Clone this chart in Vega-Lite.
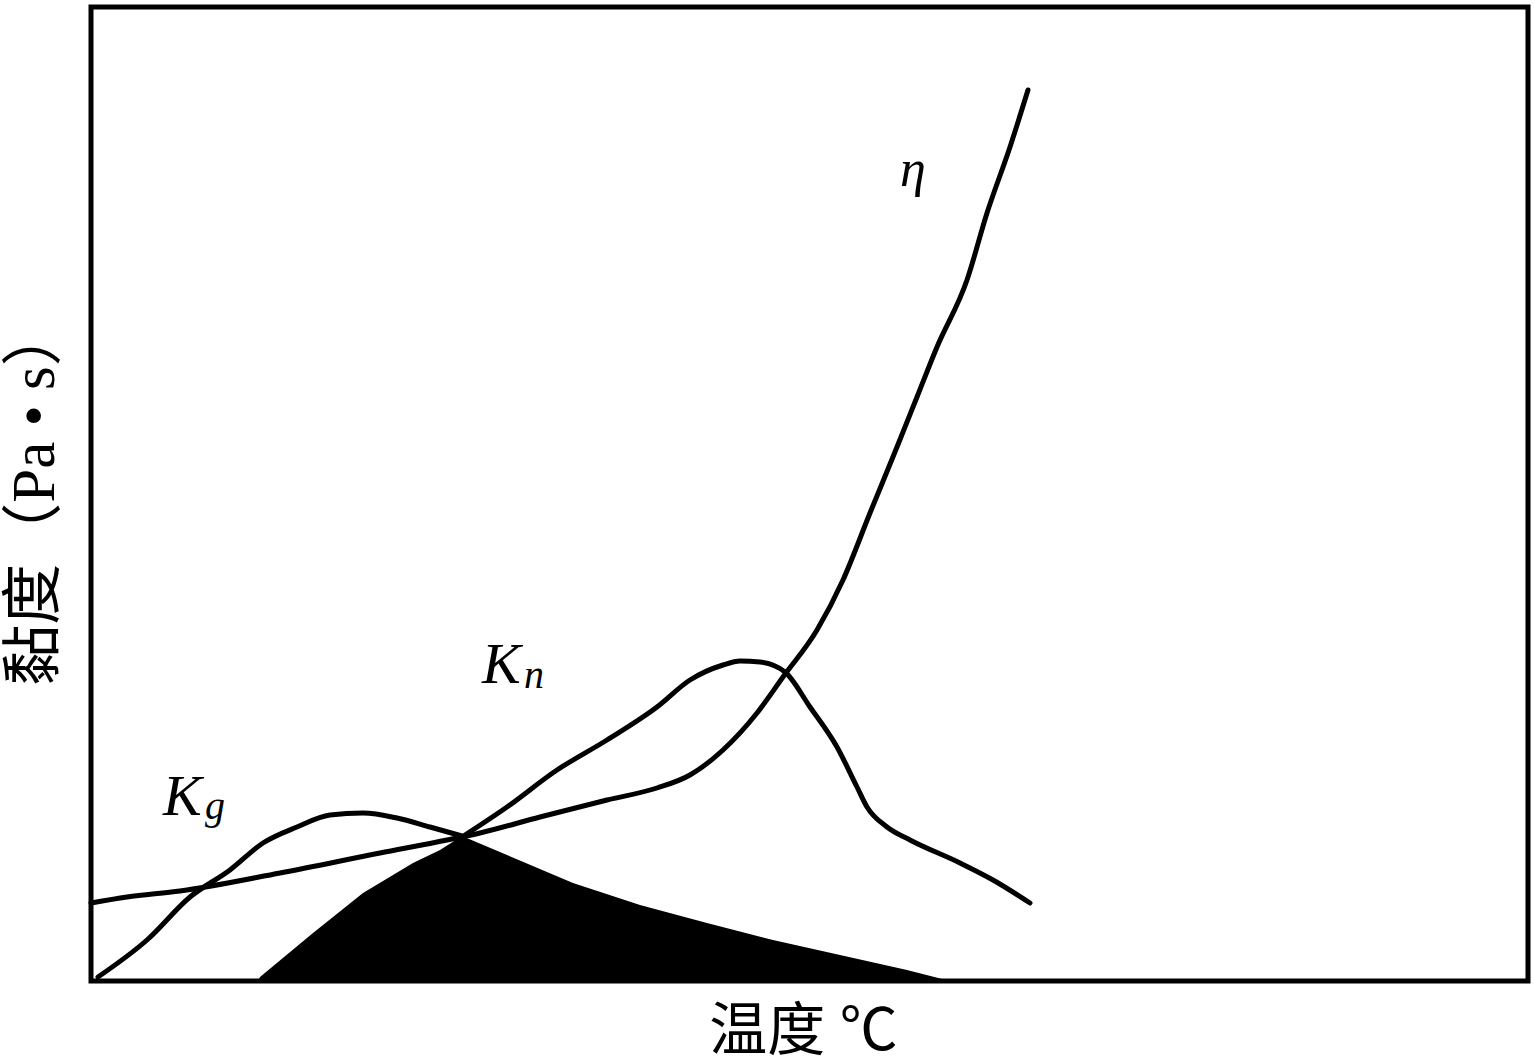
{
  "$schema": "https://vega.github.io/schema/vega-lite/v6.json",
  "autosize": {"type": "none"},
  "width": 1437,
  "height": 974,
  "padding": {"left": 91, "top": 7, "right": 6, "bottom": 83},
  "background": "white",
  "config": {
    "view": {"stroke": "black", "strokeWidth": 5},
    "axis": {"grid": false, "domain": false, "ticks": false, "labels": false, "titleFontWeight": "normal", "titleColor": "black", "titleFont": "Liberation Serif, Noto Sans CJK SC"}
  },
  "datasets": {
    "curves": [
      {"curve": "eta", "x": 0, "y": 78}, {"curve": "eta", "x": 36, "y": 84}, {"curve": "eta", "x": 89, "y": 90},
      {"curve": "eta", "x": 189, "y": 108}, {"curve": "eta", "x": 289, "y": 128}, {"curve": "eta", "x": 356, "y": 141},
      {"curve": "eta", "x": 389, "y": 148}, {"curve": "eta", "x": 449, "y": 164}, {"curve": "eta", "x": 516, "y": 181},
      {"curve": "eta", "x": 566, "y": 193}, {"curve": "eta", "x": 599, "y": 206}, {"curve": "eta", "x": 632, "y": 231},
      {"curve": "eta", "x": 666, "y": 268}, {"curve": "eta", "x": 692, "y": 304}, {"curve": "eta", "x": 726, "y": 351},
      {"curve": "eta", "x": 752, "y": 401}, {"curve": "eta", "x": 779, "y": 468}, {"curve": "eta", "x": 806, "y": 534},
      {"curve": "eta", "x": 826, "y": 584}, {"curve": "eta", "x": 846, "y": 634}, {"curve": "eta", "x": 876, "y": 701},
      {"curve": "eta", "x": 896, "y": 768}, {"curve": "eta", "x": 919, "y": 834}, {"curve": "eta", "x": 937, "y": 891},
      {"curve": "Kg", "x": 7, "y": 4}, {"curve": "Kg", "x": 56, "y": 41}, {"curve": "Kg", "x": 99, "y": 84},
      {"curve": "Kg", "x": 139, "y": 111}, {"curve": "Kg", "x": 172, "y": 138}, {"curve": "Kg", "x": 206, "y": 154},
      {"curve": "Kg", "x": 239, "y": 166}, {"curve": "Kg", "x": 272, "y": 168}, {"curve": "Kg", "x": 306, "y": 163},
      {"curve": "Kg", "x": 339, "y": 154}, {"curve": "Kg", "x": 371, "y": 145},
      {"curve": "Kn", "x": 371, "y": 144}, {"curve": "Kn", "x": 416, "y": 174}, {"curve": "Kn", "x": 466, "y": 211},
      {"curve": "Kn", "x": 516, "y": 241}, {"curve": "Kn", "x": 566, "y": 274}, {"curve": "Kn", "x": 599, "y": 301},
      {"curve": "Kn", "x": 632, "y": 316}, {"curve": "Kn", "x": 649, "y": 320}, {"curve": "Kn", "x": 669, "y": 319},
      {"curve": "Kn", "x": 694, "y": 309}, {"curve": "Kn", "x": 719, "y": 274}, {"curve": "Kn", "x": 746, "y": 234},
      {"curve": "Kn", "x": 766, "y": 194}, {"curve": "Kn", "x": 776, "y": 174}, {"curve": "Kn", "x": 796, "y": 154},
      {"curve": "Kn", "x": 819, "y": 141}, {"curve": "Kn", "x": 869, "y": 118}, {"curve": "Kn", "x": 902, "y": 101},
      {"curve": "Kn", "x": 939, "y": 78}
    ],
    "overlap": [
      {"x": 167, "y": 0}, {"x": 169, "y": 4}, {"x": 222, "y": 48}, {"x": 272, "y": 88}, {"x": 322, "y": 118},
      {"x": 349, "y": 131}, {"x": 371, "y": 145}, {"x": 416, "y": 126}, {"x": 482, "y": 98}, {"x": 549, "y": 76},
      {"x": 616, "y": 58}, {"x": 682, "y": 41}, {"x": 749, "y": 26}, {"x": 816, "y": 11}, {"x": 859, "y": 0}
    ],
    "labels": [
      {"role": "main", "text": "K", "x": 72, "y": 166},
      {"role": "sub", "text": "g", "x": 114, "y": 162},
      {"role": "main", "text": "K", "x": 391, "y": 298},
      {"role": "sub", "text": "n", "x": 433, "y": 293},
      {"role": "eta", "text": "η", "x": 809, "y": 795}
    ]
  },
  "encoding": {
    "x": {"field": "x", "type": "quantitative", "scale": {"domain": [0, 1437], "nice": false, "zero": false}, "axis": {"title": "温度 ℃", "titleFontSize": 58, "titlePadding": 22, "titleX": 712}},
    "y": {"field": "y", "type": "quantitative", "scale": {"domain": [0, 974], "nice": false, "zero": false}, "axis": {"title": "黏度（Pa • s）", "titleFontSize": 61, "titlePadding": 25, "titleY": 488}}
  },
  "layer": [
    {
      "data": {"name": "overlap"},
      "mark": {"type": "area", "color": "black", "opacity": 1}
    },
    {
      "data": {"name": "curves"},
      "mark": {"type": "line", "color": "black", "strokeWidth": 5, "strokeJoin": "round", "strokeCap": "round", "interpolate": "monotone"},
      "encoding": {"detail": {"field": "curve"}}
    },
    {
      "data": {"name": "labels"},
      "transform": [{"filter": "datum.role === 'main'"}],
      "mark": {"type": "text", "font": "Liberation Serif", "fontStyle": "italic", "fontSize": 58, "align": "left", "baseline": "alphabetic", "color": "black"},
      "encoding": {"text": {"field": "text"}}
    },
    {
      "data": {"name": "labels"},
      "transform": [{"filter": "datum.role === 'sub'"}],
      "mark": {"type": "text", "font": "Liberation Serif", "fontStyle": "italic", "fontSize": 40, "align": "left", "baseline": "alphabetic", "color": "black"},
      "encoding": {"text": {"field": "text"}}
    },
    {
      "data": {"name": "labels"},
      "transform": [{"filter": "datum.role === 'eta'"}],
      "mark": {"type": "text", "font": "Liberation Serif", "fontStyle": "italic", "fontSize": 52, "align": "left", "baseline": "alphabetic", "color": "black"},
      "encoding": {"text": {"field": "text"}}
    }
  ]
}
